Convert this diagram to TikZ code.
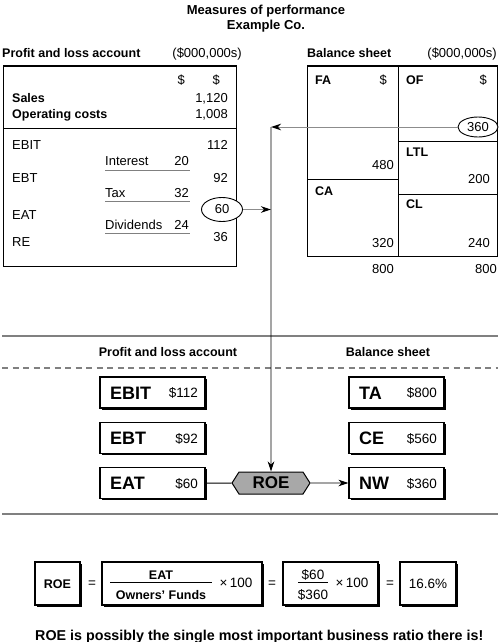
\documentclass[tikz,border=0pt]{standalone}
\usepackage{fontspec}
\setmainfont{Liberation Sans}
\usepackage{tikz}
\usetikzlibrary{arrows.meta,positioning,shapes.geometric,shapes.symbols,shadows}
\definecolor{ROInk}{HTML}{000000}
\definecolor{RORule}{HTML}{808080}
\definecolor{ROShaft}{HTML}{8C8C8C}
\definecolor{ROHex}{HTML}{A8A8A8}
\tikzset{
  flow/.style={-{Stealth[length=10pt,width=6.5pt,inset=3pt,color=ROInk]},ROInk,line width=0.8pt},
  flowgray/.style={flow,ROShaft,line width=1pt},
  sheet/.style={draw=ROInk,line width=1pt},
  rule/.style={RORule,line width=1.5pt},
  ruledash/.style={RORule,line width=1.3pt,dash pattern=on 6pt off 4.5pt},
  under/.style={RORule,line width=1pt},
  txt/.style={text=ROInk,inner sep=0pt,font=\fontsize{13}{15}\selectfont},
  headtxt/.style={txt,font=\fontsize{12.5}{15}\selectfont\bfseries},
  ring/.style={ellipse,draw=ROInk,line width=0.9pt,fill=white,inner sep=0pt,
               minimum width=40pt,minimum height=22pt,font=\fontsize{13}{15}\selectfont},
  tagbox/.style={draw=ROInk,line width=1.1pt,fill=white,minimum height=31pt,inner sep=0pt,
                 general shadow={fill=ROInk,shadow xshift=1.6pt,shadow yshift=-1.6pt}},
  tagname/.style={txt,font=\fontsize{18}{20}\selectfont\bfseries},
  tagval/.style={txt,font=\fontsize{13.5}{15}\selectfont},
  ratio/.style={shape=signal,signal to=west and east,signal pointer angle=115,draw=ROInk,
                line width=1pt,fill=ROHex,minimum width=78pt,minimum height=22pt,inner sep=0pt,
                font=\fontsize{17}{19}\selectfont\bfseries},
  formbox/.style={draw=ROInk,line width=1.2pt,fill=white,minimum height=43pt,inner sep=0pt,
                  general shadow={fill=ROInk,shadow xshift=2pt,shadow yshift=-2pt}},
  formtxt/.style={txt,font=\fontsize{13.5}{15}\selectfont},
  formhead/.style={txt,font=\fontsize{12.5}{14}\selectfont\bfseries},
  bar/.style={ROInk,line width=0.8pt},
}

\begin{document}
\begin{tikzpicture}[x=1pt,y=-1pt]
  \useasboundingbox (0,0) rectangle (500,642);
  \node[headtxt,align=center,font=\fontsize{13}{15}\selectfont\bfseries] (title) at (266,18.5)
    {Measures of performance\\Example Co.};

  % profit and loss account
  \node[headtxt,anchor=base west] (plhead) at (2,57.5) {Profit and loss account};
  \node[txt,anchor=base east] (plunit) at (242,57.5) {(\$000,000s)};
  \node[sheet,minimum width=233pt,minimum height=200pt] (plbox) at (119.5,166) {};
  \draw[sheet] (3,128) -- (236,128);
  \node[txt,anchor=base east] (pldol1) at (185,84.5) {\$};
  \node[txt,anchor=base east] (pldol2) at (220,84.5) {\$};
  \node[headtxt,anchor=base west] (sales) at (12,102.5) {Sales};
  \node[txt,anchor=base east] (salesv) at (228,102.5) {1,120};
  \node[headtxt,anchor=base west] (opcost) at (12,118.5) {Operating costs};
  \node[txt,anchor=base east] (opcostv) at (228,118.5) {1,008};
  \node[txt,anchor=base west] (ebit) at (12,149.5) {EBIT};
  \node[txt,anchor=base east] (ebitv) at (228,149.5) {112};
  \node[txt,anchor=base west] (interest) at (105,165.5) {Interest};
  \node[txt,anchor=base east] (interestv) at (189,165.5) {20};
  \draw[under] (105,170) -- (190,170);
  \node[txt,anchor=base west] (ebt) at (12,182.5) {EBT};
  \node[txt,anchor=base east] (ebtv) at (228,182.5) {92};
  \node[txt,anchor=base west] (tax) at (105,197.5) {Tax};
  \node[txt,anchor=base east] (taxv) at (189,197.5) {32};
  \draw[under] (105,201) -- (190,201);
  \node[txt,anchor=base west] (eat) at (12,219.5) {EAT};
  \node[ring,minimum width=41pt,minimum height=24pt] (eatv) at (222,209.5) {60};
  \node[txt,anchor=base west] (divs) at (105,229.5) {Dividends};
  \node[txt,anchor=base east] (divsv) at (189,229.5) {24};
  \draw[under] (105,233) -- (190,233);
  \node[txt,anchor=base west] (re) at (12,246.5) {RE};
  \node[txt,anchor=base east] (rev) at (228,241.5) {36};

  % balance sheet
  \node[headtxt,anchor=base west] (bshead) at (307,57.5) {Balance sheet};
  \node[txt,anchor=base east] (bsunit) at (497,57.5) {(\$000,000s)};
  \node[sheet,minimum width=190pt,minimum height=190pt] (bsbox) at (402,161) {};
  \draw[sheet] (398,66) -- (398,256);
  \draw[sheet] (398,141) -- (497,141);
  \draw[sheet] (307,179) -- (398,179);
  \draw[sheet] (398,194) -- (497,194);
  \node[headtxt,anchor=base west] (fa) at (315,84.5) {FA};
  \node[txt,anchor=base east] (fadol) at (387,84.5) {\$};
  \node[headtxt,anchor=base west] (of) at (406,84.5) {OF};
  \node[txt,anchor=base east] (ofdol) at (487,84.5) {\$};
  \node[ring,minimum height=20pt] (ofv) at (478,127) {360};
  \node[headtxt,anchor=base west] (ltl) at (406,156.5) {LTL};
  \node[txt,anchor=base east] (fav) at (394,169.5) {480};
  \node[txt,anchor=base east] (ltlv) at (490,183.5) {200};
  \node[headtxt,anchor=base west] (ca) at (315,195.5) {CA};
  \node[headtxt,anchor=base west] (cl) at (406,208.5) {CL};
  \node[txt,anchor=base east] (cav) at (394,247.5) {320};
  \node[txt,anchor=base east] (clv) at (490,247.5) {240};
  \node[txt,anchor=base east] (tav) at (394,273.5) {800};
  \node[txt,anchor=base east] (tlv) at (497,273.5) {800};

  \coordinate (turn) at (271,127);
  \draw[flowgray] (ofv) -- (turn);
  \draw[flowgray] (eatv) -- (eatv -| turn);

  % key figures
  \draw[rule] (2,336) -- (498,336);
  \node[headtxt] (plkey) at (168,352) {Profit and loss account};
  \node[headtxt] (bskey) at (388,352) {Balance sheet};
  \draw[ruledash] (2,368) -- (498,368);

  \node[tagbox,minimum width=105pt] (ebitbox) at (152.5,392.5) {};
  \node[tagname,anchor=base west] (ebitname) at (110,399) {EBIT};
  \node[tagval,anchor=base east] (ebitval) at (198,397.5) {\$112};
  \node[tagbox,minimum width=105pt] (ebtbox) at (152.5,438) {};
  \node[tagname,anchor=base west] (ebtname) at (110,444.5) {EBT};
  \node[tagval,anchor=base east] (ebtval) at (198,443) {\$92};
  \node[tagbox,minimum width=105pt] (eatbox) at (152.5,483) {};
  \node[tagname,anchor=base west] (eatname) at (110,489.5) {EAT};
  \node[tagval,anchor=base east] (eatval) at (198,488) {\$60};

  \node[tagbox,minimum width=95pt] (tabox) at (396.5,392.5) {};
  \node[tagname,anchor=base west] (taname) at (359,399) {TA};
  \node[tagval,anchor=base east] (taval) at (437,397.5) {\$800};
  \node[tagbox,minimum width=95pt] (cebox) at (396.5,438) {};
  \node[tagname,anchor=base west] (cename) at (359,444.5) {CE};
  \node[tagval,anchor=base east] (ceval) at (437,443) {\$560};
  \node[tagbox,minimum width=95pt] (nwbox) at (396.5,483) {};
  \node[tagname,anchor=base west] (nwname) at (359,489.5) {NW};
  \node[tagval,anchor=base east] (nwval) at (437,488) {\$360};

  \node[ratio] (roe) at (271,483) {ROE};
  \draw[flow] (turn) -- (roe);
  \draw[sheet] (eatbox) -- (roe);
  \draw[flow] (roe) -- (nwbox);
  \draw[rule] (2,514) -- (498,514);

  % ratio formula
  \node[formbox,minimum width=45pt] (roebox) at (57.5,583.5) {};
  \node[formhead] (roename) at (57.5,584) {ROE};
  \node[formtxt] (eq1) at (92,584) {=};
  \node[formbox,minimum width=160pt] (fracbox) at (182,583.5) {};
  \node[formhead] (fracnum) at (161,575) {EAT};
  \node[formhead] (fracden) at (161,595) {Owners' Funds};
  \draw[bar] (110,582) -- (212,582);
  \node[formtxt] (fracx) at (236,583) {×\,100};
  \node[formtxt] (eq2) at (272,584) {=};
  \node[formbox,minimum width=95pt] (numbox) at (330.5,583.5) {};
  \node[formtxt] (numnum) at (313,575) {\$60};
  \node[formtxt] (numden) at (313,595) {\$360};
  \draw[bar] (298,582) -- (328,582);
  \node[formtxt] (numx) at (352,583) {×\,100};
  \node[formtxt] (eq3) at (390,584) {=};
  \node[formbox,minimum width=56pt] (resbox) at (428,583.5) {};
  \node[formtxt] (result) at (428,584) {16.6\%};

  \node[headtxt,anchor=base west,font=\fontsize{14.3}{16}\selectfont\bfseries] (moral) at (35,640)
    {ROE is possibly the single most important business ratio there is!};
\end{tikzpicture}
\end{document}
